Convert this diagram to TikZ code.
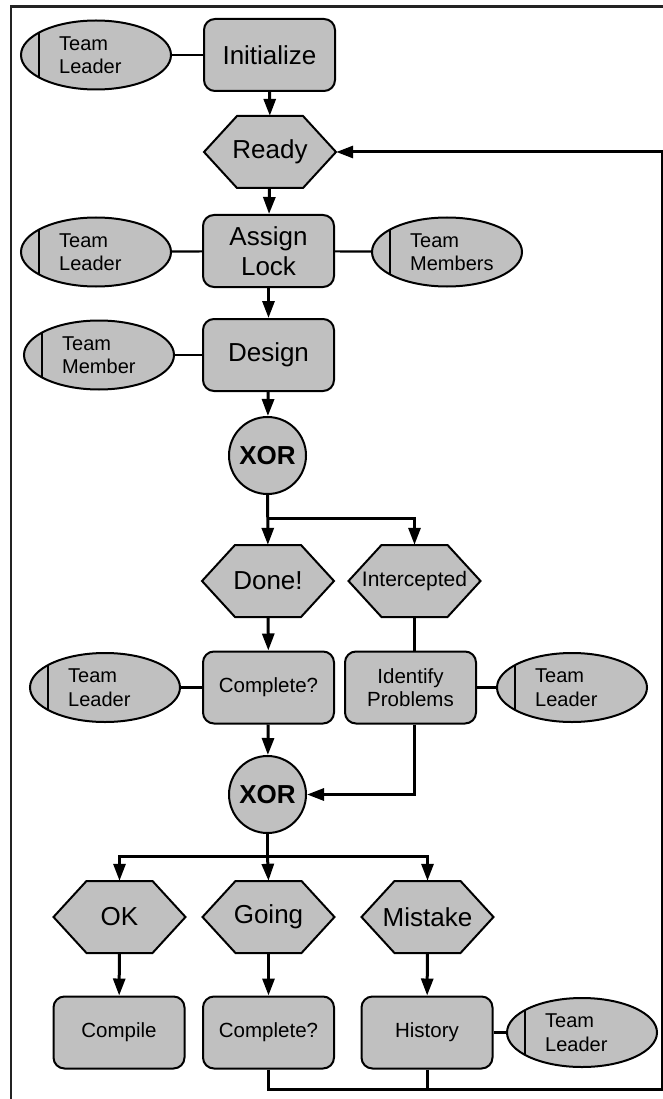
\documentclass[tikz,border=0pt]{standalone}
\usepackage{fontspec}
\setmainfont{Liberation Sans}
\usetikzlibrary{arrows.meta,shapes.geometric,calc}
\definecolor{boxgray}{RGB}{192,192,192}
\definecolor{framegray}{RGB}{35,35,35}
\newcommand{\hexevent}[4]{%
  \filldraw[hexline] (#2-66,#3) -- (#2-33,#3-36) -- (#2+33,#3-36) -- (#2+66,#3) -- (#2+33,#3+36) -- (#2-33,#3+36) -- cycle;
  \node[eventlbl] (#1) at (#2,#3) {#4};}
\tikzset{
  every node/.style={inner sep=0pt},
  procbox/.style={rectangle, rounded corners=11pt, draw=black, line width=2pt, fill=boxgray, minimum width=131pt, minimum height=72pt, align=center, font=\fontsize{26}{30}\selectfont},
  smallbox/.style={procbox, font=\fontsize{20.5}{23.5}\selectfont},
  eventlbl/.style={rectangle, minimum width=132pt, minimum height=72pt, font=\fontsize{26}{30}\selectfont},
  hexline/.style={draw=black, line width=2pt, fill=boxgray, line join=miter},
  xorgate/.style={circle, draw=black, line width=2pt, fill=boxgray, minimum size=77pt, font=\bfseries\fontsize{26}{30}\selectfont},
  role/.style={ellipse, draw=black, line width=2pt, fill=boxgray, minimum width=150pt, minimum height=69pt,
    path picture={\draw[line width=2pt] ([xshift=18pt]path picture bounding box.west) ++(0pt,-40pt) -- ++(0pt,80pt);}},
  rolelbl/.style={anchor=west, xshift=39pt, align=left, font=\fontsize{20}{23.5}\selectfont},
  flow/.style={line width=3pt, -{Triangle[length=17pt,width=12pt]}},
  plain/.style={line width=3pt},
  tie/.style={line width=2.2pt},
}
\begin{document}
\begin{tikzpicture}[x=1pt,y=-1pt]
\useasboundingbox (0,0) rectangle (663,1099);
\fill[white] (0,0) rectangle (663,1099);
\draw[framegray, line width=3pt] (10,7) -- (663,7);
\draw[framegray, line width=2pt] (11,7) -- (11,1099);

% nodes
\node[role, label={[rolelbl]west:{Team\\Leader}}] (tl1) at (96,55) {};
\node[procbox] (init) at (269.5,55) {Initialize};
\hexevent{ready}{270}{152}{Ready}
\node[role, label={[rolelbl]west:{Team\\Leader}}] (tl2) at (96,252) {};
\node[procbox] (assign) at (268.5,251) {Assign\\Lock};
\node[role, label={[rolelbl]west:{Team\\Members}}] (tms) at (447,252) {};
\node[role, label={[rolelbl]west:{Team\\Member}}] (tm) at (99,355) {};
\node[procbox] (design) at (268.5,355) {Design};
\node[xorgate] (xor1) at (267.5,455.5) {XOR};
\hexevent{done}{268}{581}{Done!}
\hexevent{inter}{414.5}{581}{\fontsize{21}{24}\selectfont Intercepted}
\node[smallbox] (comp1) at (268.5,687.5) {Complete?};
\node[smallbox] (ident) at (410.5,687.5) {Identify\\Problems};
\node[role, label={[rolelbl]west:{Team\\Leader}}] (tl3) at (105,687.5) {};
\node[role, label={[rolelbl]west:{Team\\Leader}}] (tl4) at (572,687.5) {};
\node[xorgate] (xor2) at (267.5,794.5) {XOR};
\hexevent{ok}{119.5}{917}{OK}
\hexevent{going}{268.5}{917}{Going}
\hexevent{mistake}{427.5}{917}{Mistake}
\node[smallbox] (compile) at (119,1032.5) {Compile};
\node[smallbox] (comp2) at (268.5,1032.5) {Complete?};
\node[smallbox] (hist) at (427,1032.5) {History};
\node[role, label={[rolelbl]west:{Team\\Leader}}] (tl5) at (582,1032.5) {};

\coordinate (j1) at (267.5,518);
\coordinate (j2) at (267.5,856);
\coordinate (loopcorner) at (662,1089);

% role ties
\draw[tie] (tl1) -- (init);
\draw[tie] (tl2) -- (assign);
\draw[tie] (assign) -- (tms);
\draw[tie] (tm) -- (design);
\draw[tie] (tl3) -- (comp1);
\draw[tie] (ident) -- (tl4);
\draw[tie] (hist) -- (tl5);

% flow
\draw[flow] (init) -- (ready);
\draw[flow] (ready) -- (assign);
\draw[flow] (assign) -- (design);
\draw[flow] (design) -- (xor1);
\draw[flow] (xor1) -- (done);
\draw[flow] (j1) -| (inter.north);
\draw[plain] (inter.south) -- (inter.south |- ident.north);
\draw[flow] (done) -- (comp1);
\draw[flow] (comp1) -- (xor2);
\draw[flow] (inter.south |- ident.south) |- (xor2.east);
\draw[plain] (xor2.south) -- (j2);
\draw[flow] (j2) -| (ok.north);
\draw[flow] (j2) -- (going.north);
\draw[flow] (j2) -| (mistake.north);
\draw[flow] (ok) -- (compile);
\draw[flow] (going) -- (comp2);
\draw[flow] (mistake) -- (hist);
\draw[flow] (comp2.south) |- (loopcorner) |- (ready.east);
\draw[plain] (hist.south) -- (hist.south |- loopcorner);
\end{tikzpicture}
\end{document}
